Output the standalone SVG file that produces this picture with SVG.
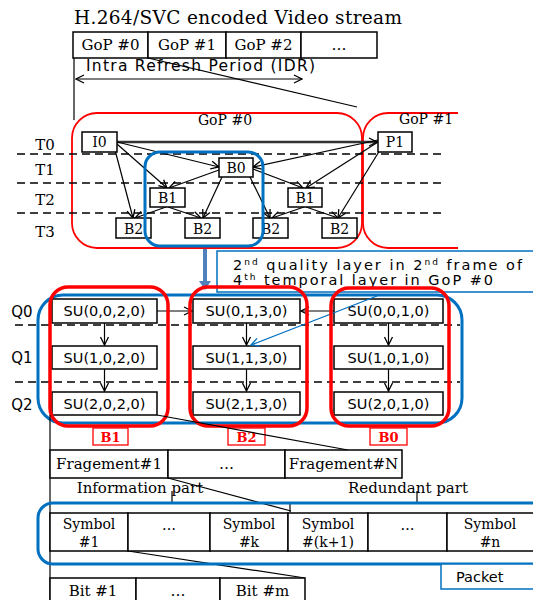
<svg xmlns="http://www.w3.org/2000/svg" width="533" height="600" viewBox="0 0 533 600">
<style>
.serif{font-family:"DejaVu Serif","Liberation Serif",serif;fill:#000}
.sans{font-family:"DejaVu Sans","Liberation Sans",sans-serif;fill:#000}
.box{fill:#fff;stroke:#000;stroke-width:1.5}
.dash{stroke:#000;stroke-width:1.3;stroke-dasharray:8 5;fill:none}
.red{fill:none;stroke:#ff0000;stroke-width:1.8}
.redt{fill:none;stroke:#ff0000;stroke-width:3.5}
.blue{fill:none;stroke:#0070c0;stroke-width:3}
.ln{stroke:#000;stroke-width:1.2;fill:none}
.ar{stroke:#000;stroke-width:1.2;fill:none;marker-end:url(#ah)}
.lab{font-size:14px;text-anchor:middle}
.su{font-size:14.5px;text-anchor:middle}
.cell{font-size:15px;text-anchor:middle}
.sym{font-size:14px;text-anchor:middle}
.rlab{fill:#fff;stroke:#ff0000;stroke-width:1.3}
.rtxt{font-family:"DejaVu Serif","Liberation Serif",serif;font-size:13px;font-weight:bold;fill:#ff0000;text-anchor:middle}
</style>
<defs>
<marker id="ah" markerWidth="10" markerHeight="10" refX="9" refY="5" orient="auto-start-reverse" markerUnits="userSpaceOnUse">
<path d="M1,1 L9,5 L1,9" fill="none" stroke="#000" stroke-width="1.3"/>
</marker>
<marker id="ahb" markerWidth="10" markerHeight="10" refX="9" refY="5" orient="auto" markerUnits="userSpaceOnUse">
<path d="M1,1 L9,5 L1,9" fill="none" stroke="#0070c0" stroke-width="1.3"/>
</marker>
</defs>
<rect width="533" height="600" fill="#fff"/>

<!-- Title and top stream -->
<text class="serif" x="74" y="24" font-size="18.5" textLength="328" lengthAdjust="spacing">H.264/SVC encoded Video stream</text>
<g id="stream">
<rect class="box" x="73" y="32" width="75" height="26"/>
<rect class="box" x="148" y="32" width="78" height="26"/>
<rect class="box" x="226" y="32" width="75" height="26"/>
<rect class="box" x="301" y="32" width="76" height="26"/>
<text class="serif cell" x="110.5" y="50">GoP #0</text>
<text class="serif cell" x="187" y="50">GoP #1</text>
<text class="serif cell" x="263.5" y="50">GoP #2</text>
<text class="serif cell" x="339" y="50">…</text>
</g>
<text class="sans" x="86" y="71" font-size="15.5" textLength="229" lengthAdjust="spacing">Intra Refresh Period (IDR)</text>

<!-- GoP containers -->
<g id="gop0"><rect class="red" x="72" y="113" width="290" height="135" rx="25"/>
<text class="serif" x="225" y="125" font-size="14" text-anchor="middle">GoP #0</text></g>
<g id="gop1"><path class="red" d="M458,113 H388 A25,25 0 0 0 363,138 V223 A25,25 0 0 0 388,248 H458"/>
<text class="serif" x="399" y="124" font-size="14">GoP #1</text></g>

<!-- temporal layers -->
<g id="tlayers">
<text class="serif" x="45" y="150" font-size="15" text-anchor="middle">T0</text>
<text class="serif" x="45" y="175" font-size="15" text-anchor="middle">T1</text>
<text class="serif" x="45" y="205" font-size="15" text-anchor="middle">T2</text>
<text class="serif" x="45" y="237" font-size="15" text-anchor="middle">T3</text>
<line class="dash" x1="17" y1="154" x2="445" y2="154"/>
<line class="dash" x1="17" y1="183" x2="445" y2="183"/>
<line class="dash" x1="17" y1="213" x2="445" y2="213"/>
</g>

<!-- connectors -->
<g id="connectors">
<line class="ln" x1="74" y1="58" x2="74" y2="120"/>
<line class="ln" x1="148" y1="58" x2="357" y2="107"/>
<line class="ln" x1="76" y1="79" x2="302" y2="79" marker-start="url(#ah)" marker-end="url(#ah)"/>
<line x1="117" y1="142" x2="377" y2="142" stroke="#333" stroke-width="2.5" marker-end="url(#ah)"/>
<line class="ar" x1="117" y1="142" x2="219" y2="167"/>
<line class="ar" x1="117" y1="144" x2="167" y2="188"/>
<line class="ar" x1="115" y1="150" x2="133" y2="218"/>
<line class="ar" x1="219" y1="170" x2="169" y2="188"/>
<line class="ar" x1="222" y1="177" x2="203" y2="218"/>
<line class="ar" x1="250" y1="177" x2="270" y2="218"/>
<line class="ar" x1="166" y1="207" x2="135" y2="218"/>
<line class="ar" x1="168" y1="207" x2="201" y2="218"/>
<line class="ar" x1="378" y1="140" x2="253" y2="167"/>
<line class="ar" x1="378" y1="142" x2="306" y2="188"/>
<line class="ar" x1="380" y1="150" x2="338" y2="218"/>
<line class="ar" x1="253" y1="169" x2="303" y2="188"/>
<line class="ar" x1="304" y1="207" x2="272" y2="218"/>
<line class="ar" x1="306" y1="207" x2="338" y2="218"/>
</g>

<!-- GoP nodes -->
<g id="I0"><rect class="box" x="82" y="132" width="35" height="20"/><text class="serif lab" x="99.5" y="147">I0</text></g>
<g id="P1"><rect class="box" x="378" y="132" width="34" height="20"/><text class="serif lab" x="395" y="147">P1</text></g>
<g id="B0"><rect class="box" x="219" y="158" width="34" height="19"/><text class="serif lab" x="236" y="173">B0</text></g>
<g id="B1a"><rect class="box" x="150" y="188" width="35" height="19"/><text class="serif lab" x="167.5" y="203">B1</text></g>
<g id="B1b"><rect class="box" x="288" y="188" width="34" height="19"/><text class="serif lab" x="305" y="203">B1</text></g>
<g id="B2a"><rect class="box" x="116" y="218" width="35" height="20"/><text class="serif lab" x="133.5" y="234">B2</text></g>
<g id="B2b"><rect class="box" x="185" y="218" width="35" height="20"/><text class="serif lab" x="202.5" y="234">B2</text></g>
<g id="B2c"><rect class="box" x="253" y="218" width="35" height="20"/><text class="serif lab" x="270.5" y="234">B2</text></g>
<g id="B2d"><rect class="box" x="322" y="218" width="35" height="20"/><text class="serif lab" x="339.5" y="234">B2</text></g>
<rect class="blue" x="145" y="152" width="118" height="94" rx="15"/>

<!-- zoom arrow and callout -->
<line x1="205" y1="249" x2="205" y2="282" stroke="#4f81bd" stroke-width="4"/>
<path d="M199,281 L211,281 L205,290 Z" fill="#4f81bd"/>
<g id="callout">
<path d="M535,251 H217 V292 H535" fill="#fff" stroke="#0070c0" stroke-width="1.5"/>
<text class="sans" x="233" y="270" font-size="14.5" textLength="289" lengthAdjust="spacing">2<tspan font-size="9" dy="-5">nd</tspan><tspan dy="5"> quality layer in 2</tspan><tspan font-size="9" dy="-5">nd</tspan><tspan dy="5"> frame of</tspan></text>
<text class="sans" x="233" y="285" font-size="14.5" textLength="260" lengthAdjust="spacing">4<tspan font-size="9" dy="-5">th</tspan><tspan dy="5"> temporal layer in GoP #0</tspan></text>
</g>

<!-- SU section -->
<g id="qlayers">
<text class="sans" x="22" y="317" font-size="15" text-anchor="middle">Q0</text>
<text class="sans" x="22" y="363" font-size="15" text-anchor="middle">Q1</text>
<text class="sans" x="22" y="410" font-size="15" text-anchor="middle">Q2</text>
<line class="dash" x1="15" y1="325" x2="460" y2="325"/>
<line class="dash" x1="15" y1="382" x2="460" y2="382"/>
</g>
<rect class="blue" x="38" y="295" width="424" height="128" rx="25"/>

<g id="colB1">
<rect class="box" x="52" y="299" width="105" height="24"/><text class="sans su" x="104.5" y="316">SU(0,0,2,0)</text>
<rect class="box" x="52" y="346" width="105" height="23"/><text class="sans su" x="104.5" y="363">SU(1,0,2,0)</text>
<rect class="box" x="52" y="392" width="105" height="23"/><text class="sans su" x="104.5" y="409">SU(2,0,2,0)</text>
</g>
<g id="colB2">
<rect class="box" x="193" y="299" width="107" height="24"/><text class="sans su" x="246.5" y="316">SU(0,1,3,0)</text>
<rect class="box" x="193" y="346" width="107" height="23"/><text class="sans su" x="246.5" y="363">SU(1,1,3,0)</text>
<rect class="box" x="193" y="392" width="107" height="23"/><text class="sans su" x="246.5" y="409">SU(2,1,3,0)</text>
</g>
<g id="colB0">
<rect class="box" x="334" y="299" width="109" height="24"/><text class="sans su" x="388.5" y="316">SU(0,0,1,0)</text>
<rect class="box" x="334" y="346" width="109" height="23"/><text class="sans su" x="388.5" y="363">SU(1,0,1,0)</text>
<rect class="box" x="334" y="392" width="109" height="23"/><text class="sans su" x="388.5" y="409">SU(2,0,1,0)</text>
</g>
<g id="suconn">
<line class="ar" x1="104.5" y1="323" x2="104.5" y2="345"/>
<line class="ar" x1="104.5" y1="369" x2="104.5" y2="391"/>
<line class="ar" x1="246.5" y1="323" x2="246.5" y2="345"/>
<line class="ar" x1="246.5" y1="369" x2="246.5" y2="391"/>
<line class="ar" x1="388.5" y1="323" x2="388.5" y2="345"/>
<line class="ar" x1="388.5" y1="369" x2="388.5" y2="391"/>
<line class="ar" x1="157" y1="311" x2="192" y2="311"/>
<line class="ar" x1="334" y1="311" x2="301" y2="311"/>
<line x1="377" y1="296" x2="251" y2="345" stroke="#0070c0" stroke-width="1.3" marker-end="url(#ahb)"/>
</g>
<g id="redgroups">
<rect class="redt" x="50" y="287" width="118" height="139" rx="18"/>
<rect class="redt" x="190" y="287" width="117" height="139" rx="18"/>
<rect class="redt" x="331" y="288" width="118" height="138" rx="18"/>
<rect class="rlab" x="93" y="428" width="35" height="17"/><text class="rtxt" x="110.5" y="442">B1</text>
<rect class="rlab" x="228" y="428" width="37" height="17"/><text class="rtxt" x="246.5" y="442">B2</text>
<rect class="rlab" x="370" y="428" width="37" height="17"/><text class="rtxt" x="388.5" y="442">B0</text>
</g>

<!-- fragment / symbol / bit -->
<g id="lowerconn">
<line class="ln" x1="50" y1="415" x2="50" y2="600"/>
<line class="ln" x1="157" y1="415" x2="348" y2="450"/>
<line class="ln" x1="168" y1="478" x2="291" y2="511"/>
<path class="ln" d="M172,491 V503 M417,491 V503 M50,503 H533 M290,503 V512"/>
<line class="ln" x1="128" y1="551" x2="305" y2="578"/>
</g>
<g id="fragments">
<rect class="box" x="50" y="450" width="118" height="28"/>
<rect class="box" x="168" y="450" width="117" height="28"/>
<rect class="box" x="285" y="450" width="117" height="28"/>
<text class="serif cell" x="109" y="469">Fragement#1</text>
<text class="serif cell" x="226.5" y="469">…</text>
<text class="serif cell" x="343.5" y="469">Fragement#N</text>
</g>
<text class="serif" x="140" y="493" font-size="15" text-anchor="middle">Information part</text>
<text class="serif" x="408" y="493" font-size="15" text-anchor="middle">Redundant part</text>

<g id="symbols">
<rect class="box" x="50" y="513" width="78" height="38"/>
<rect class="box" x="128" y="513" width="82" height="38"/>
<rect class="box" x="210" y="513" width="78" height="38"/>
<rect class="box" x="288" y="513" width="80" height="38"/>
<rect class="box" x="368" y="513" width="79" height="38"/>
<rect class="box" x="447" y="513" width="90" height="38"/>
<text class="serif sym" x="89" y="529">Symbol</text><text class="serif sym" x="89" y="547">#1</text>
<text class="serif sym" x="169" y="530">…</text>
<text class="serif sym" x="249" y="529">Symbol</text><text class="serif sym" x="249" y="547">#k</text>
<text class="serif sym" x="328" y="529">Symbol</text><text class="serif sym" x="328" y="547">#(k+1)</text>
<text class="serif sym" x="407.5" y="530">…</text>
<text class="serif sym" x="490" y="529">Symbol</text><text class="serif sym" x="490" y="547">#n</text>
</g>
<path class="blue" d="M535,503 H53 A15,15 0 0 0 38,518 V549 A15,15 0 0 0 53,564 H535"/>
<g id="packet">
<path d="M537,564 H441 V589 H537" fill="#fff" stroke="#0070c0" stroke-width="1.5"/>
<text class="sans" x="456" y="582" font-size="14.5">Packet</text>
</g>
<g id="bits">
<rect class="box" x="50" y="578" width="86" height="30"/>
<rect class="box" x="136" y="578" width="84" height="30"/>
<rect class="box" x="220" y="578" width="85" height="30"/>
<text class="serif cell" x="93" y="596">Bit #1</text>
<text class="serif cell" x="178" y="596">…</text>
<text class="serif cell" x="262.5" y="596">Bit #m</text>
</g>
</svg>
